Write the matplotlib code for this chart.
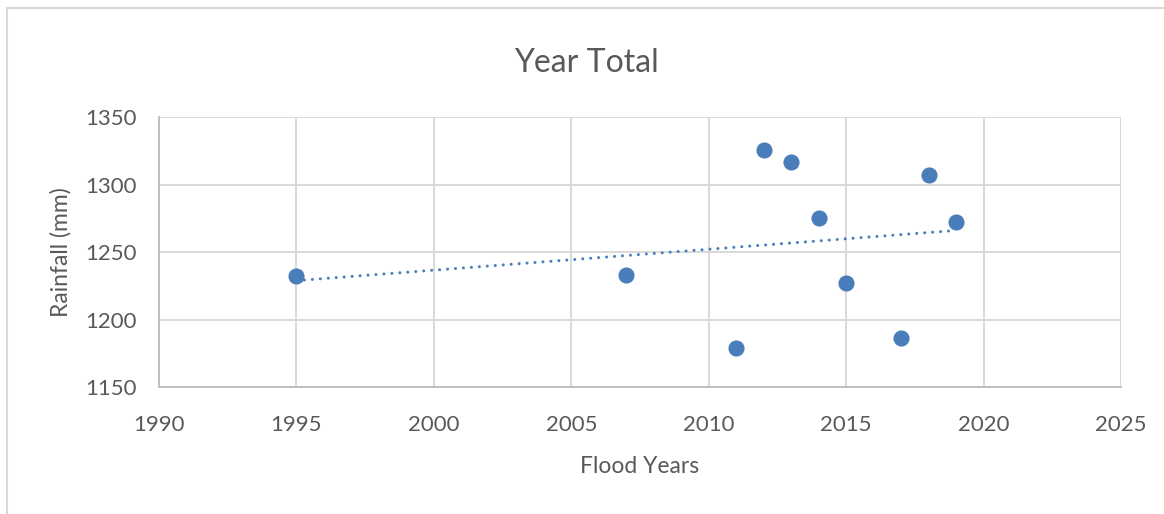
import numpy as np
import matplotlib.pyplot as plt
from matplotlib.lines import Line2D

plt.rcParams['font.family'] = ['Lato', 'DejaVu Sans']

# flood years and total yearly rainfall (mm)
years = [1995, 2007, 2011, 2012, 2013, 2014, 2015, 2017, 2018, 2019]
rainfall = [1232, 1233, 1179, 1326, 1317, 1275, 1227, 1186, 1307, 1272]

x_ticks = [1990, 1995, 2000, 2005, 2010, 2015, 2020, 2025]
y_ticks = [1150, 1200, 1250, 1300, 1350]

blue = '#4a7ebb'
text_col = '#595959'

fig = plt.figure(figsize=(11.64, 5.14), dpi=100)
ax = fig.add_axes([0.1366, 0.2471, 0.8265, 0.5247])

ax.scatter(years, rainfall, s=135, color=blue, zorder=3, linewidths=0)

# linear trendline over the data range
k, b = np.polyfit(years, rainfall, 1)
xt = np.array([min(years), max(years)])
ax.plot(xt, k * xt + b, color=blue, lw=2.2, linestyle=(0, (0.01, 2.6)),
        dash_capstyle='round', zorder=2)

ax.set_xlim(1990, 2025)
ax.set_ylim(1150, 1350)
ax.set_xticks(x_ticks)
ax.set_yticks(y_ticks)
ax.grid(True, color='#d9d9d9', lw=1.4)
ax.set_axisbelow(True)
for side in ['top', 'right']:
    ax.spines[side].set_visible(False)
for side in ['left', 'bottom']:
    ax.spines[side].set_color('#bfbfbf')
    ax.spines[side].set_linewidth(1.4)
ax.tick_params(length=0, labelsize=16, labelcolor=text_col)
ax.tick_params(axis='x', pad=20)
ax.tick_params(axis='y', pad=16)

ax.set_xlabel('Flood Years', fontsize=16.5, color=text_col, labelpad=15)
ax.set_ylabel('Rainfall (mm)', fontsize=16.5, color=text_col, labelpad=10)
fig.text(0.5035, 0.878, 'Year Total', ha='center', va='center', fontsize=23,
         color=text_col)

# outer chart frame (top and left edges)
fig.add_artist(Line2D([0.006, 1.0], [0.985, 0.985], color='#d9d9d9', lw=1.5,
                      transform=fig.transFigure))
fig.add_artist(Line2D([0.006, 0.006], [0.0, 0.985], color='#d9d9d9', lw=1.5,
                      transform=fig.transFigure))

fig.savefig('out.png', dpi=100)
